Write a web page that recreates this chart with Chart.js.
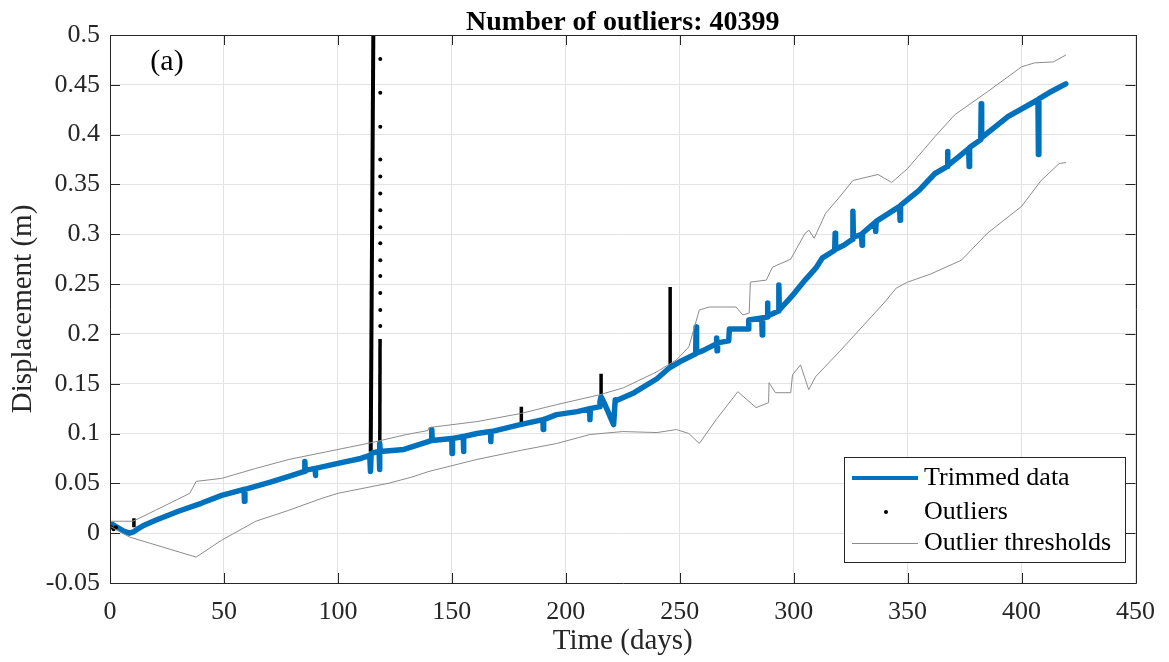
<!DOCTYPE html>
<html>
<head>
<meta charset="utf-8">
<script src="https://cdn.jsdelivr.net/npm/chart.js@4.4.1/dist/chart.umd.min.js"></script>
<style>
  html, body { margin: 0; padding: 0; background: #ffffff; }
  #wrap { width: 1169px; height: 662px; }
</style>
</head>
<body>
<div id="wrap"><canvas id="c" width="1169" height="662"></canvas></div>
<script>
// ---------------- DATA ----------------
const chartTitle = 'Number of outliers: 40399';
const panelLabel = '(a)';
const xTitle = 'Time (days)';
const yTitle = 'Displacement (m)';
const seriesNames = ['Trimmed data', 'Outliers', 'Outlier thresholds'];

const xTicks = [0, 50, 100, 150, 200, 250, 300, 350, 400, 450];
const yTicks = [-0.05, 0, 0.05, 0.1, 0.15, 0.2, 0.25, 0.3, 0.35, 0.4, 0.45, 0.5];

// Trimmed data (blue)
const trimmedDays = [0, 1, 3, 6, 8.5, 10, 12, 15, 20, 30, 40, 49, 58.8, 59, 59.2, 70, 78.5,
  85.3, 85.5, 85.7, 90, 90.1, 90.3, 100, 110, 114, 114.3, 114.6, 116, 118.1, 118.3, 118.4, 118.6,
  129, 141, 141.2, 141.4, 150, 150.1, 150.3, 155, 155.1, 155.3, 161, 167, 167.1, 167.3, 180,
  190, 190.1, 190.3, 196, 205, 210.5, 210.6, 210.8, 214.8, 215, 215.5, 217, 221, 221.7, 222, 230,
  240, 245.5, 250, 257, 257.2, 257.4, 260, 266, 266.2, 266.4, 266.6, 271.5, 271.8, 280, 280.3,
  286, 286.2, 286.4, 288.3, 288.5, 288.7, 293.3, 293.5, 293.7, 300, 305, 309.7, 312.5,
  318, 318.2, 318.4, 322, 325.8, 326, 326.2, 329.8, 330, 330.2, 335.8, 336, 336.2,
  346.5, 346.7, 346.9, 355, 362, 367.3, 367.5, 367.7, 376.8, 377, 377.2, 382.1, 382.3, 382.5,
  394, 407.2, 407.4, 407.6, 412, 419.4];
const trimmedVals = [0.008, 0.009, 0.006, 0.002, 0.000, 0.001, 0.004, 0.008, 0.013, 0.022, 0.030, 0.038, 0.044, 0.032, 0.044, 0.051, 0.057,
  0.062, 0.072, 0.063, 0.065, 0.058, 0.065, 0.070, 0.075, 0.078, 0.062, 0.080, 0.081, 0.082, 0.064, 0.090, 0.082,
  0.084, 0.093, 0.104, 0.093, 0.095, 0.080, 0.095, 0.097, 0.082, 0.097, 0.100, 0.102, 0.092, 0.102, 0.109,
  0.114, 0.104, 0.114, 0.119, 0.122, 0.125, 0.114, 0.125, 0.127, 0.132, 0.137, 0.130, 0.109, 0.134, 0.133, 0.141,
  0.155, 0.166, 0.172, 0.180, 0.207, 0.181, 0.183, 0.190, 0.196, 0.183, 0.191, 0.193, 0.205, 0.205, 0.214,
  0.216, 0.199, 0.216, 0.217, 0.231, 0.218, 0.223, 0.249, 0.224, 0.240, 0.254, 0.266, 0.276,
  0.284, 0.301, 0.285, 0.289, 0.295, 0.323, 0.297, 0.300, 0.289, 0.301, 0.312, 0.303, 0.313,
  0.328, 0.314, 0.329, 0.344, 0.361, 0.368, 0.383, 0.369, 0.386, 0.368, 0.387, 0.395, 0.431, 0.397,
  0.418, 0.435, 0.380, 0.436, 0.442, 0.451];

// Upper outlier threshold (grey)
const upperDays = [0, 10, 11, 20, 35, 37.8, 49, 64, 78.5, 100, 115, 130, 139.5, 140, 161, 180, 196, 215,
  225.4, 240, 248.6, 254, 258.6, 263, 274.7, 277.7, 280.5, 281, 288, 290.7, 298.7, 305, 306.7, 309,
  314, 320, 326, 337, 343, 350, 362, 370.7, 385, 400, 405.6, 414, 419.5];
const upperVals = [0.012, 0.012, 0.013, 0.023, 0.040, 0.052, 0.055, 0.065, 0.074, 0.084, 0.091, 0.099, 0.103, 0.106, 0.112, 0.120, 0.129, 0.139,
  0.146, 0.162, 0.174, 0.187, 0.224, 0.227, 0.227, 0.219, 0.221, 0.252, 0.254, 0.267, 0.275, 0.301, 0.304, 0.296,
  0.321, 0.337, 0.354, 0.360, 0.352, 0.366, 0.398, 0.420, 0.443, 0.468, 0.472, 0.473, 0.480];

// Lower outlier threshold (grey)
const lowerDays = [0, 8.7, 37.8, 49, 64, 78.5, 93, 100, 122, 132, 140, 161, 180, 196, 210.6, 225, 240,
  248.6, 254, 258.6, 266, 275.5, 283.5, 289, 289.2, 292, 298.7, 299.5, 303, 306.6, 309.6,
  320, 330, 340, 345, 350, 360, 373.6, 385, 400, 408.6, 416.5, 419.5];
const lowerVals = [0.007, -0.004, -0.024, -0.007, 0.012, 0.023, 0.035, 0.040, 0.050, 0.056, 0.062, 0.074, 0.083, 0.090, 0.099, 0.102, 0.101,
  0.104, 0.100, 0.090, 0.114, 0.142, 0.126, 0.131, 0.151, 0.141, 0.141, 0.159, 0.169, 0.144, 0.157,
  0.182, 0.207, 0.232, 0.246, 0.252, 0.260, 0.274, 0.301, 0.328, 0.354, 0.371, 0.372];

// Outliers: isolated dots
const outlierDotDays = [0.6, 1.6, 2.6, 118.6, 118.6, 118.6, 118.6, 118.6, 118.6, 118.6, 118.6, 118.6, 118.6, 118.6, 118.6, 118.6, 118.6];
const outlierDotVals = [0.006, 0.004, 0.006, 0.476, 0.442, 0.408, 0.375, 0.358, 0.341, 0.324, 0.307, 0.291, 0.274, 0.258, 0.241, 0.224, 0.208];

// Outliers: dense clusters that read as solid vertical strokes
const outlierRunDayLow  = [114.4, 118.4, 180.5, 215.5, 245.8, 10.5];
const outlierRunDayHigh = [115.6, 118.5, 180.5, 215.5, 245.8, 10.5];
const outlierRunLow  = [0.082, 0.090, 0.110, 0.133, 0.168, 0.006];
const outlierRunHigh = [0.520, 0.195, 0.127, 0.160, 0.247, 0.015];

// ---------------- CHART ----------------
const pts = (xs, ys) => xs.map((x, i) => ({ x: x, y: ys[i] }));
const BLUE = '#0072BD';
const GREY = '#8c8c8c';
const AXIS = '#262626';
const SERIF = "'Liberation Serif', 'Times New Roman', serif";

const runDatasets = outlierRunLow.map((lo, i) => ({
  label: 'run' + i,
  data: [{ x: outlierRunDayLow[i], y: lo }, { x: outlierRunDayHigh[i], y: outlierRunHigh[i] }],
  showLine: true, borderColor: '#000000', borderWidth: i === 0 ? 4 : 3.5, pointRadius: 0, order: 3
}));

const datasets = [
  { label: seriesNames[0], data: pts(trimmedDays, trimmedVals), showLine: true,
    borderColor: BLUE, borderWidth: 5.5, pointRadius: 0, tension: 0, order: 2,
    borderJoinStyle: 'round', borderCapStyle: 'round' },
  { label: seriesNames[1], data: pts(outlierDotDays, outlierDotVals), showLine: false,
    pointRadius: 2, pointBackgroundColor: '#000000', pointBorderWidth: 0, order: 1 },
  ...runDatasets,
  { label: seriesNames[2], data: pts(upperDays, upperVals), showLine: true,
    borderColor: GREY, borderWidth: 1, pointRadius: 0, order: 0 },
  { label: seriesNames[2] + ' (lower)', data: pts(lowerDays, lowerVals), showLine: true,
    borderColor: GREY, borderWidth: 1, pointRadius: 0, order: 0 }
];

const fmt = v => Number(v.toFixed(2)).toString();

const decorPlugin = {
  id: 'decor',
  afterDatasetsDraw(chart) {
    const { ctx, chartArea: a, scales } = chart;
    const xs = scales.x, ys = scales.y;
    ctx.save();
    // frame
    ctx.strokeStyle = AXIS;
    ctx.lineWidth = 1;
    ctx.beginPath();
    ctx.rect(Math.round(a.left) + 0.5, Math.round(a.top) + 0.5, Math.round(a.right - a.left), Math.round(a.bottom - a.top));
    ctx.stroke();
    // inward ticks on all four sides
    const TL = 10;
    ctx.beginPath();
    xTicks.forEach(v => {
      const px = Math.round(xs.getPixelForValue(v)) + 0.5;
      ctx.moveTo(px, a.bottom); ctx.lineTo(px, a.bottom - TL);
      ctx.moveTo(px, a.top); ctx.lineTo(px, a.top + TL);
    });
    yTicks.forEach(v => {
      const py = Math.round(ys.getPixelForValue(v)) + 0.5;
      ctx.moveTo(a.left, py); ctx.lineTo(a.left + TL, py);
      ctx.moveTo(a.right, py); ctx.lineTo(a.right - TL, py);
    });
    ctx.stroke();

    // title
    ctx.fillStyle = '#000000';
    ctx.font = 'bold 28px ' + SERIF;
    ctx.textAlign = 'center';
    ctx.textBaseline = 'alphabetic';
    ctx.fillText(chartTitle, (a.left + a.right) / 2, 30);

    // panel label
    ctx.font = '30px ' + SERIF;
    ctx.textAlign = 'center';
    ctx.textBaseline = 'middle';
    ctx.fillText(panelLabel, 167, 62);

    // legend
    const lx = 844, ly = 457, lw = 281, lh = 105;
    ctx.fillStyle = '#ffffff';
    ctx.fillRect(lx, ly, lw, lh);
    ctx.strokeStyle = AXIS;
    ctx.lineWidth = 1;
    ctx.strokeRect(lx + 0.5, ly + 0.5, lw, lh);
    const rows = [478, 512, 543];
    ctx.strokeStyle = BLUE; ctx.lineWidth = 4;
    ctx.beginPath(); ctx.moveTo(852, rows[0]); ctx.lineTo(918, rows[0]); ctx.stroke();
    ctx.fillStyle = '#000000';
    ctx.beginPath(); ctx.arc(886, rows[1], 2, 0, Math.PI * 2); ctx.fill();
    ctx.strokeStyle = GREY; ctx.lineWidth = 1;
    ctx.beginPath(); ctx.moveTo(852, rows[2] + 0.5); ctx.lineTo(918, rows[2] + 0.5); ctx.stroke();
    ctx.fillStyle = '#000000';
    ctx.font = '26px ' + SERIF;
    ctx.textAlign = 'left';
    ctx.textBaseline = 'middle';
    seriesNames.forEach((n, i) => ctx.fillText(n, 924, rows[i]));
    ctx.restore();
  }
};

new Chart(document.getElementById('c'), {
  type: 'scatter',
  data: { datasets },
  options: {
    responsive: false,
    animation: false,
    devicePixelRatio: 1,
    layout: { padding: { top: 35, right: 27, left: 0, bottom: 0 } },
    plugins: { legend: { display: false }, tooltip: { enabled: false }, title: { display: false } },
    scales: {
      x: {
        type: 'linear', min: 0, max: 450,
        afterBuildTicks: s => { s.ticks = xTicks.map(v => ({ value: v })); },
        afterFit: s => { s.height = 79; },
        grid: { color: '#e3e3e3', lineWidth: 1, drawTicks: false },
        border: { display: false },
        ticks: { color: AXIS, font: { family: SERIF, size: 26 }, padding: 14, maxRotation: 0, autoSkip: false,
                 callback: v => fmt(v) },
        title: { display: true, text: xTitle, color: AXIS, font: { family: SERIF, size: 29 }, padding: { top: 0, bottom: 3 } }
      },
      y: {
        type: 'linear', min: -0.05, max: 0.5,
        afterBuildTicks: s => { s.ticks = yTicks.map(v => ({ value: v })); },
        afterFit: s => { s.width = 110; },
        grid: { color: '#e3e3e3', lineWidth: 1, drawTicks: false },
        border: { display: false },
        ticks: { color: AXIS, font: { family: SERIF, size: 26 }, padding: 10, autoSkip: false,
                 callback: v => fmt(v) },
        title: { display: true, text: yTitle, color: AXIS, font: { family: SERIF, size: 29 }, padding: { top: 6, bottom: 0 } }
      }
    }
  },
  plugins: [decorPlugin]
});
</script>
</body>
</html>
